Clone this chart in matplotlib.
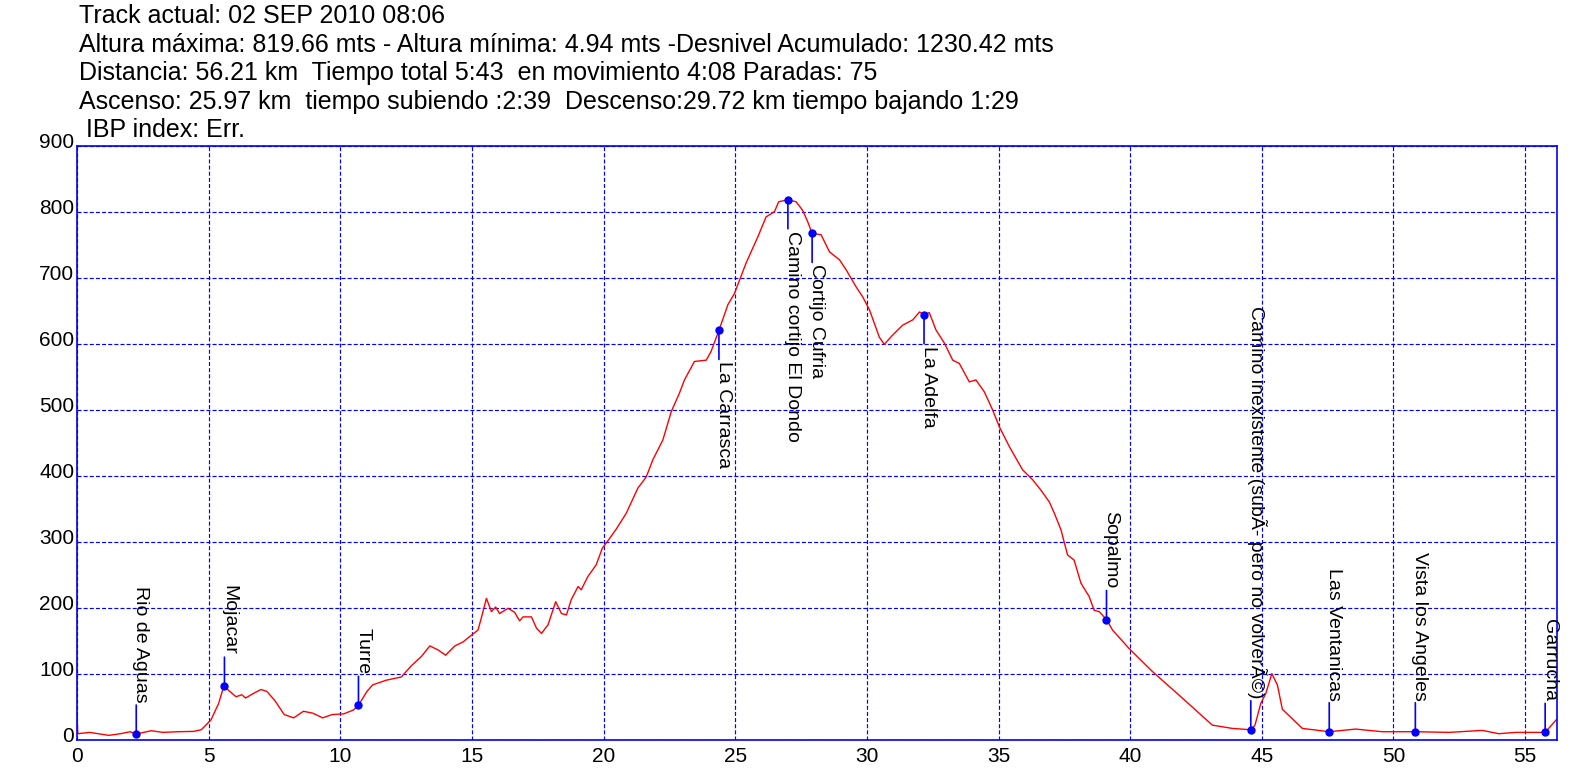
import matplotlib
matplotlib.use("Agg")
import matplotlib.pyplot as plt
from matplotlib.transforms import ScaledTranslation

plt.rcParams['font.family'] = ['Liberation Sans', 'DejaVu Sans']

# elevation profile (km, metres)
dist_km = [0.0, 0.03, 0.48, 1.21, 1.65, 2.02, 2.25, 2.53, 2.82, 3.26, 3.85, 4.43, 4.72,
           5.09, 5.38, 5.53, 5.60, 5.75, 6.04, 6.26, 6.40, 6.70, 6.99, 7.21, 7.50, 7.87,
           8.23, 8.60, 8.96, 9.33, 9.69, 10.13, 10.50, 10.69, 11.01, 11.23, 11.74, 12.32,
           12.70, 13.08, 13.40, 13.71, 14.00, 14.35, 14.66, 14.91, 15.23, 15.36, 15.55,
           15.74, 15.90, 16.05, 16.37, 16.62, 16.81, 16.94, 17.26, 17.45, 17.64, 17.89,
           18.18, 18.40, 18.59, 18.77, 19.03, 19.15, 19.40, 19.72, 19.95, 20.23, 20.48,
           20.86, 21.30, 21.62, 21.87, 22.25, 22.57, 22.88, 23.07, 23.45, 23.90, 24.08,
           24.38, 24.72, 24.97, 25.41, 25.86, 26.17, 26.49, 26.65, 27.00, 27.31, 27.56,
           27.75, 27.92, 28.26, 28.58, 28.96, 29.21, 29.59, 29.84, 30.10, 30.47, 30.66,
           30.98, 31.36, 31.74, 32.00, 32.17, 32.37, 32.62, 32.94, 33.26, 33.51, 33.89,
           34.14, 34.46, 34.78, 35.03, 35.41, 35.91, 36.29, 36.61, 36.93, 37.12, 37.37,
           37.62, 37.87, 38.13, 38.44, 38.63, 38.82, 39.10, 39.33, 39.96, 40.85, 41.98,
           43.12, 43.88, 44.58, 44.74, 44.96, 45.15, 45.38, 45.59, 45.78, 46.41, 46.54,
           47.56, 48.56, 49.58, 50.83, 52.11, 53.37, 54.00, 54.64, 55.76, 56.18]
elev_m = [38, 10, 12, 7.5, 10, 13, 9.5, 12, 14.5, 12, 13, 13.5, 16,
          31, 56, 76, 82, 76, 66, 69, 64, 71, 77, 74, 61, 39,
          34, 44, 41, 34, 39, 40, 46, 53, 74, 84, 91, 96,
          113, 127, 143, 137, 129, 143, 149, 157, 167, 186, 215,
          195, 202, 192, 200, 194, 181, 187, 187, 170, 162, 175,
          210, 192, 190, 213, 233, 228, 248, 266, 291, 306, 320,
          344, 382, 399, 425, 455, 498, 526, 546, 574, 576, 589,
          621, 660, 677, 723, 763, 793, 801, 816, 819, 816, 803,
          786, 768, 766, 740, 728, 713, 687, 672, 652, 611, 600,
          614, 629, 637, 649, 645, 648, 622, 602, 576, 571, 543,
          546, 528, 500, 475, 445, 410, 395, 379, 361, 344, 319,
          281, 273, 238, 218, 197, 195, 183, 167, 139, 104, 64,
          23, 18, 16, 23, 56, 71, 101, 84, 47, 23, 18,
          13, 17, 13, 13, 12, 15, 10, 12, 12, 31]

# waypoints
wp_names = ["Rio de Aguas", "Mojacar", "Turre", "La Carrasca",
            "Camino cortijo El Dondo", "Cortijo Cufria", "La Adelfa", "Sopalmo",
            "Camino inexistente (subÃ- pero no volverÃ©)", "Las Ventanicas",
            "Vista los Angeles", "Garrucha"]
wp_km = [2.25, 5.60, 10.69, 24.38, 27.00, 27.92, 32.17, 39.10, 44.58, 47.56, 50.83, 55.76]
wp_elev = [9.5, 82, 53, 621, 819, 768, 645, 183, 16, 13, 13, 12]

header = ["Track actual: 02 SEP 2010 08:06",
          "Altura máxima: 819.66 mts - Altura mínima: 4.94 mts -Desnivel Acumulado: 1230.42 mts",
          "Distancia: 56.21 km  Tiempo total 5:43  en movimiento 4:08 Paradas: 75",
          "Ascenso: 25.97 km  tiempo subiendo :2:39  Descenso:29.72 km tiempo bajando 1:29",
          "IBP index: Err."]

x_ticks = list(range(0, 60, 5))
y_ticks = list(range(0, 1000, 100))

fig = plt.figure(figsize=(15.96, 7.78), dpi=100)
ax = fig.add_axes([77 / 1596, 37.7 / 778, 1480 / 1596, 594 / 778])

ax.plot(dist_km, elev_m, color='red', lw=1)
ax.plot(wp_km, wp_elev, 'o', color='blue', ms=5, zorder=5)

# labels hang below high points, stand above low ones
for name, x, y in zip(wp_names, wp_km, wp_elev):
    if y > 400:
        sgn, ha = -1, 'left'
    else:
        sgn, ha = 1, 'right'
    ax.annotate('', xy=(x, y), xytext=(0, sgn * 29), textcoords='offset pixels',
                arrowprops=dict(arrowstyle='-', color='blue', lw=1.2, shrinkA=0, shrinkB=0))
    ax.annotate(name, xy=(x, y), xytext=(0, sgn * 31), textcoords='offset pixels',
                rotation=270, rotation_mode='anchor', ha=ha, va='baseline', fontsize=14)

ax.set_xlim(0, 56.21)
ax.set_ylim(0, 900)
ax.set_xticks(x_ticks)
ax.set_yticks(y_ticks)
ax.tick_params(length=0, labelsize=15, colors='black')
ax.tick_params(axis='x', pad=5)
ax.tick_params(axis='y', pad=2)
for lab in ax.get_yticklabels():
    lab.set_transform(lab.get_transform() + ScaledTranslation(0, 6 / 100, fig.dpi_scale_trans))

ax.grid(True, color='blue', ls=(0, (3.4, 1.8)), lw=0.85)
for sp in ax.spines.values():
    sp.set_color('blue')
    sp.set_linewidth(1.2)

ys = [16.3, 44.8, 73.3, 101.8, 130.3]
for i, (line, y) in enumerate(zip(header, ys)):
    xpos = 86 if i == 4 else 79
    fig.text(xpos / 1596, 1 - y / 778, line, fontsize=18, va='center', ha='left')

fig.savefig("out.png", dpi=100)
